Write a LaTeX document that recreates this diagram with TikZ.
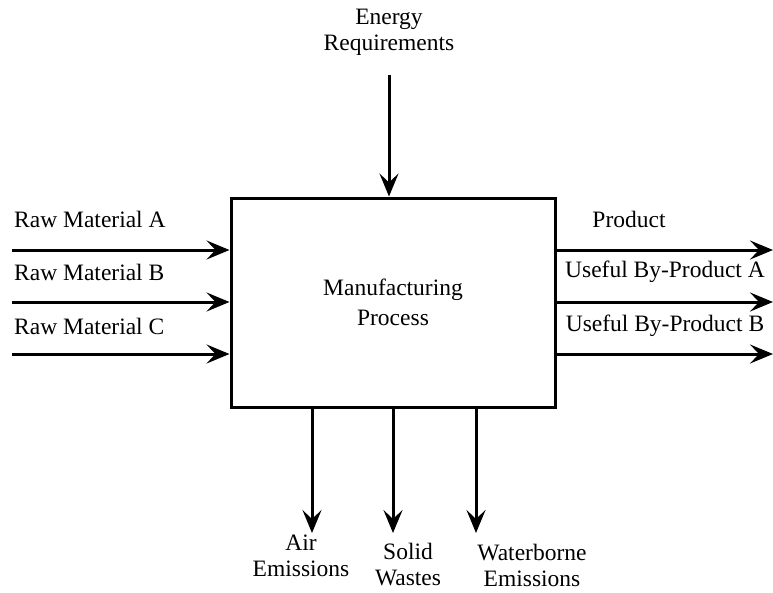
\documentclass[tikz,border=0pt]{standalone}
\usepackage{fontspec}
\setmainfont{Liberation Serif}
\usetikzlibrary{arrows.meta}
\begin{document}
\begin{tikzpicture}[x=1pt,y=-1pt,
  flow/.style={line width=3pt,-{Stealth[length=23pt,width=19pt,inset=9pt]}},
  lbl/.style={font=\fontsize{23.5}{26}\selectfont,inner sep=0pt,align=center},
  proc/.style={draw,line width=3pt,minimum width=324pt,minimum height=209pt,inner sep=0pt,font=\fontsize{23.5}{30}\selectfont,align=center}]
\useasboundingbox (0,0) rectangle (773,592);
\node[proc] (box) at (393,302.5) {Manufacturing\\Process};
% inputs
\coordinate (ra) at (12,250);
\coordinate (rb) at (12,302);
\coordinate (rc) at (12,354);
\draw[flow] (ra) -- (ra -| box.west);
\draw[flow] (rb) -- (rb -| box.west);
\draw[flow] (rc) -- (rc -| box.west);
\node[lbl,anchor=west] (la) at (14,219) {Raw Material A};
\node[lbl,anchor=west] (lb) at (14,272) {Raw Material B};
\node[lbl,anchor=west] (lc) at (14,326) {Raw Material C};
% outputs
\coordinate (pa) at (773,250);
\coordinate (pb) at (773,302);
\coordinate (pc) at (773,354);
\draw[flow] (pa -| box.east) -- (pa);
\draw[flow] (pb -| box.east) -- (pb);
\draw[flow] (pc -| box.east) -- (pc);
\node[lbl] (lp) at (629,219) {Product};
\node[lbl] (lpa) at (665,272) {Useful By-Product A};
\node[lbl] (lpb) at (665,326) {Useful By-Product B};
% energy
\coordinate (en) at (389,75);
\draw[flow] (en) -- (en |- box.north);
\node[lbl] (le) at (389,32) {Energy\\Requirements};
% emissions
\coordinate (ea) at (312,533);
\coordinate (es) at (393,533);
\coordinate (ew) at (476,533);
\draw[flow] (ea |- box.south) -- (ea);
\draw[flow] (es |- box.south) -- (es);
\draw[flow] (ew |- box.south) -- (ew);
\node[lbl] (lea) at (301,556) {Air\\Emissions};
\node[lbl] (les) at (408,565) {Solid\\Wastes};
\node[lbl] (lew) at (532,565) {Waterborne\\Emissions};
\end{tikzpicture}
\end{document}
